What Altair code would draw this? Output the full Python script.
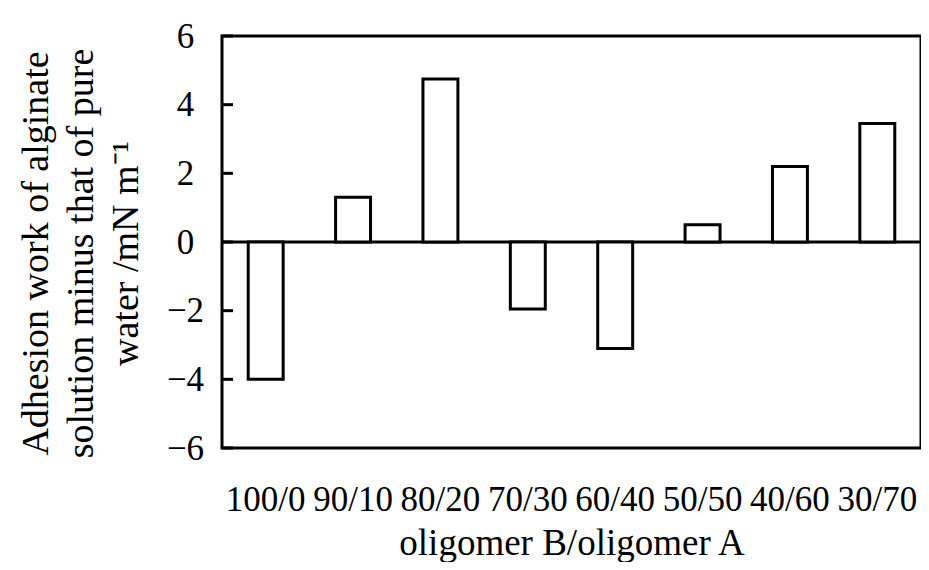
import altair as alt
import pandas as pd

categories = ["100/0", "90/10", "80/20", "70/30", "60/40", "50/50", "40/60", "30/70"]
values = [-4.0, 1.3, 4.75, -1.95, -3.1, 0.5, 2.2, 3.45]
y_ticks = [-6, -4, -2, 0, 2, 4, 6]

bars_df = pd.DataFrame({"ratio": categories, "value": values})
ticks_df = pd.DataFrame({"v": y_ticks})

FONT = "Liberation Serif"

y_scale = alt.Scale(domain=[-6, 6], nice=False, zero=False)

bars = alt.Chart(bars_df).mark_bar(
    fill="white", stroke="black", strokeWidth=3
).encode(
    x=alt.X(
        "ratio:N",
        sort=categories,
        scale=alt.Scale(paddingInner=0.6, paddingOuter=0.3),
        axis=alt.Axis(
            title="oligomer B/oligomer A",
            labelAngle=0,
            ticks=False,
            domain=False,
            labelPadding=34,
            labelFontSize=35,
            labelFont=FONT,
            labelColor="black",
            titleFont=FONT,
            titleFontSize=37,
            titleFontWeight="normal",
            titleColor="black",
            titleY=106,
            titleBaseline="alphabetic",
        ),
    ),
    y=alt.Y(
        "value:Q",
        scale=y_scale,
        axis=alt.Axis(
            title=["Adhesion work of  alginate", "solution minus that of pure", "water /mN m\u207b\u00b9"],
            values=y_ticks,
            grid=False,
            ticks=False,
            domain=False,
            labelAlign="center",
            labelBaseline="middle",
            labelPadding=37,
            labelFontSize=35,
            labelFont=FONT,
            labelColor="black",
            titleFont=FONT,
            titleFontSize=38,
            titleFontWeight="normal",
            titleColor="black",
            titleAngle=270,
            titleAlign="center",
            titleBaseline="top",
            titleLineHeight=45,
            titleX=-205,
            titleY=217,
        ),
    ),
)

zero_line = alt.Chart(ticks_df).transform_filter(alt.datum.v == 0).mark_rule(
    color="black", strokeWidth=3
).encode(y=alt.Y("v:Q", scale=y_scale))

inner_ticks = alt.Chart(ticks_df).mark_rule(color="black", strokeWidth=3).encode(
    y=alt.Y("v:Q", scale=y_scale),
    x=alt.value(0),
    x2=alt.value(11),
)

chart = alt.layer(zero_line, inner_ticks, bars).properties(
    width=699,
    height=412,
    background="white",
    autosize=alt.AutoSizeParams(type="none"),
    padding={"left": 214, "top": 28, "right": 0, "bottom": 114},
).configure_view(
    stroke="black", strokeWidth=3
)

chart.save("out.html", embed_options={"renderer": "svg", "actions": False})
